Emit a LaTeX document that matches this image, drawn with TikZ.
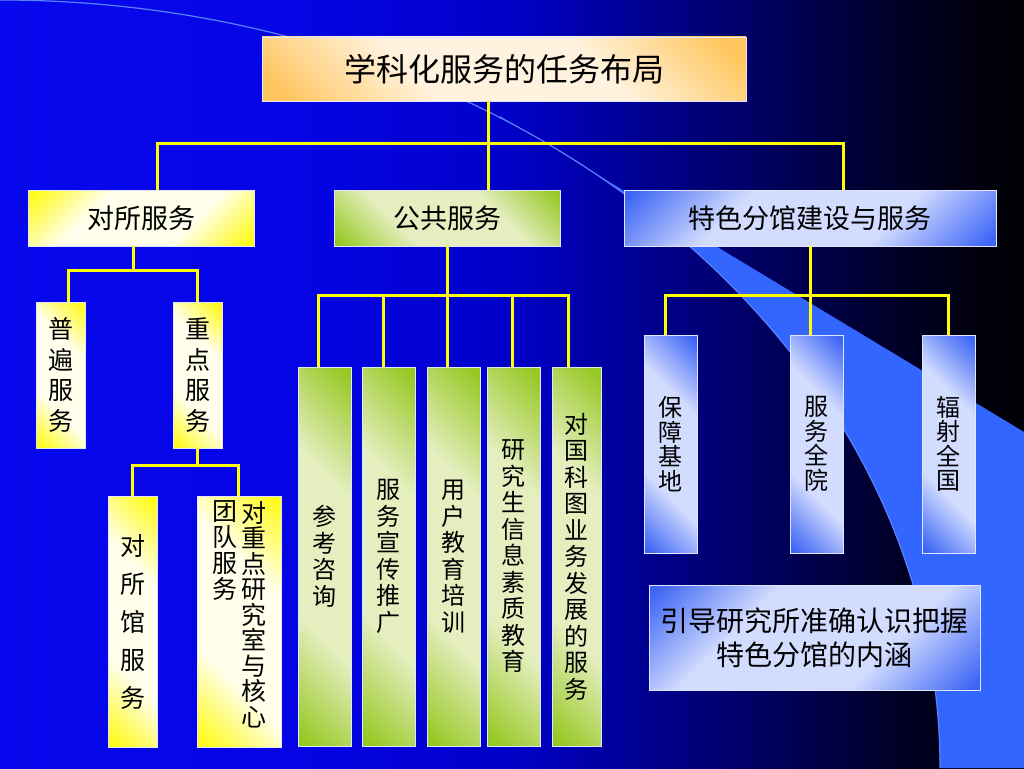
\documentclass[tikz,border=0pt]{standalone}
\usepackage{fontspec}
\newfontfamily\cjk{Noto Sans CJK SC}
\definecolor{bgA}{RGB}{8,8,238}
\definecolor{bgB}{RGB}{4,4,228}
\definecolor{bgC}{RGB}{0,0,200}
\definecolor{bgD}{RGB}{0,0,140}
\definecolor{bgE}{RGB}{0,0,90}
\definecolor{bgF}{RGB}{0,0,45}
\definecolor{bgG}{RGB}{0,0,12}
\definecolor{bgH}{RGB}{0,0,4}
\definecolor{wedgecol}{RGB}{51,102,255}
\definecolor{arccol}{RGB}{90,130,255}
\definecolor{lineyel}{RGB}{255,255,0}
\definecolor{boxedge}{RGB}{225,230,255}
\definecolor{ycor}{RGB}{255,250,20}
\definecolor{ycen}{RGB}{255,255,235}
\definecolor{ocor}{RGB}{255,198,95}
\definecolor{ocen}{RGB}{255,243,224}
\definecolor{gcor}{RGB}{150,200,35}
\definecolor{gcen}{RGB}{228,238,190}
\definecolor{bcor}{RGB}{60,100,245}
\definecolor{bcen}{RGB}{210,220,255}
\pgfdeclarehorizontalshading{bgsh}{100bp}{color(0bp)=(bgA); color(25bp)=(bgA); color(40bp)=(bgB); color(50bp)=(bgC); color(57bp)=(bgD); color(63bp)=(bgE); color(68bp)=(bgF); color(73bp)=(bgG); color(75bp)=(bgH); color(100bp)=(bgH)}
\pgfdeclarehorizontalshading{yelsh}{100bp}{color(0bp)=(ycor); color(16bp)=(ycor); color(36bp)=(ycen); color(64bp)=(ycen); color(84bp)=(ycor); color(100bp)=(ycor)}
\pgfdeclarehorizontalshading{orgsh}{100bp}{color(0bp)=(ocor); color(18bp)=(ocor); color(38bp)=(ocen); color(62bp)=(ocen); color(82bp)=(ocor); color(100bp)=(ocor)}
\pgfdeclarehorizontalshading{grnsh}{100bp}{color(0bp)=(gcor); color(16bp)=(gcor); color(36bp)=(gcen); color(64bp)=(gcen); color(84bp)=(gcor); color(100bp)=(gcor)}
\pgfdeclarehorizontalshading{blush}{100bp}{color(0bp)=(bcor); color(16bp)=(bcor); color(36bp)=(bcen); color(64bp)=(bcen); color(84bp)=(bcor); color(100bp)=(bcor)}
\begin{document}
\begin{tikzpicture}[x=1pt,y=-1pt,
  every node/.style={inner sep=0pt, outer sep=0pt},
  conn/.style={draw=lineyel, line width=3pt},
  boxbase/.style={draw=boxedge, line width=0.8pt, text=black, align=center},
  orgbox/.style={boxbase, shading=orgsh, shading angle=45},
  yelbox/.style={boxbase, shading=yelsh, shading angle=45},
  yelboxh/.style={boxbase, shading=yelsh, shading angle=-45},
  grnbox/.style={boxbase, shading=grnsh, shading angle=45},
  blubox/.style={boxbase, shading=blush, shading angle=45},
  bluboxh/.style={boxbase, shading=blush, shading angle=-45},
  ftitle/.style={font=\cjk\fontsize{32}{36}\selectfont},
  fmid/.style={font=\cjk\fontsize{27}{34}\selectfont},
  fvy/.style={font=\cjk\fontsize{25}{30.5}\selectfont},
  fvyw/.style={font=\cjk\fontsize{25}{38}\selectfont},
  fvg/.style={font=\cjk\fontsize{24}{26.5}\selectfont},
  fvb/.style={font=\cjk\fontsize{24}{24.5}\selectfont},
  coltext/.style={align=center, anchor=north, text=black}
]
\useasboundingbox (0,0) rectangle (1024,768);
% background
\shade[shading=bgsh] (0,0) rectangle (1024,768);
\begin{scope}
  \clip (500,116) -- (1024,432) -- (1024,768) -- (500,768) -- cycle;
  \fill[wedgecol] (0,0) .. controls (519,0) and (940,344) .. (940,768) -- (1030,768) -- (1030,-5) -- cycle;
\end{scope}
\draw[arccol, line width=1.2pt] (0,0) .. controls (519,0) and (940,344) .. (940,768);

% level 0
\node[orgbox, ftitle, minimum width=484pt, minimum height=64pt] (T) at (504,69) {学科化服务的任务布局};
% level 1
\node[yelboxh, fmid, minimum width=226pt, minimum height=56pt] (A) at (141,218) {对所服务};
\node[grnbox, fmid, minimum width=226pt, minimum height=56pt] (B) at (447,218) {公共服务};
\node[bluboxh, fmid, minimum width=372pt, minimum height=56pt] (C) at (810,218) {特色分馆建设与服务};
% under A
\node[yelbox, fvy, minimum width=49pt, minimum height=146pt] (A1) at (60.5,375) {普\\遍\\服\\务};
\node[yelbox, fvy, minimum width=49pt, minimum height=146pt] (A2) at (197.5,375) {重\\点\\服\\务};
\node[yelbox, fvyw, minimum width=49pt, minimum height=251pt] (A21) at (132.5,621.5) {对\\所\\馆\\服\\务};
\node[yelbox, minimum width=84pt, minimum height=251pt] (A22) at (239,621.5) {};
\node[coltext, font=\cjk\fontsize{25}{25.5}\selectfont] (A22r) at (253.5,501) {对\\重\\点\\研\\究\\室\\与\\核\\心};
\node[coltext, font=\cjk\fontsize{25}{26}\selectfont] (A22l) at (224.5,501) {团\\队\\服\\务};
% under B
\node[grnbox, fvg, minimum width=53pt, minimum height=379pt] (B1) at (324.5,556.5) {参\\考\\咨\\询};
\node[grnbox, fvg, minimum width=53pt, minimum height=379pt] (B2) at (388.5,556.5) {服\\务\\宣\\传\\推\\广};
\node[grnbox, fvg, minimum width=53pt, minimum height=379pt] (B3) at (453.5,556.5) {用\\户\\教\\育\\培\\训};
\node[grnbox, fvg, minimum width=53pt, minimum height=379pt] (B4) at (513.5,556.5) {研\\究\\生\\信\\息\\素\\质\\教\\育};
\node[grnbox, fvg, minimum width=49pt, minimum height=379pt] (B5) at (576.5,556.5) {对\\国\\科\\图\\业\\务\\发\\展\\的\\服\\务};
% under C
\node[blubox, fvb, minimum width=53pt, minimum height=218pt] (C1) at (670.5,444) {保\\障\\基\\地};
\node[blubox, fvb, minimum width=53pt, minimum height=218pt] (C2) at (816.5,444) {服\\务\\全\\院};
\node[blubox, fvb, minimum width=53pt, minimum height=218pt] (C3) at (948.5,444) {辐\\射\\全\\国};
\node[bluboxh, font=\cjk\fontsize{28}{34}\selectfont, minimum width=331pt, minimum height=105pt] (D) at (814.5,637.5) {引导研究所准确认识把握\\特色分馆的内涵};

% connectors
\coordinate (busTop) at (488,143);
\draw[conn] ([xshift=-16pt]T.south) -- ([xshift=41pt]B.north);
\draw[conn] ([xshift=16pt]A.north) |- (busTop);
\draw[conn] ([xshift=33pt]C.north) |- (busTop);

\coordinate (busA) at (133,270);
\draw[conn] ([xshift=-8pt]A.south) -- (busA);
\draw[conn] ([xshift=7.5pt]A1.north) |- (busA);
\draw[conn] (A2.north) |- (busA);

\coordinate (busA2) at (197.5,465);
\draw[conn] (A2.south) -- (busA2);
\draw[conn] (A21.north) |- (busA2);
\draw[conn] ([xshift=-1pt]A22.north) |- (busA2);

\coordinate (busB) at (447,295);
\draw[conn] (B.south) -- (busB);
\draw[conn] ([xshift=-6.5pt]B1.north) |- (busB);
\draw[conn] ([xshift=-5.5pt]B2.north) |- (busB);
\draw[conn] ([xshift=-6.5pt]B3.north) |- (busB);
\draw[conn] ([xshift=-1.5pt]B4.north) |- (busB);
\draw[conn] ([xshift=-8.5pt]B5.north) |- (busB);

\coordinate (busC) at (810,295);
\draw[conn] (C.south) -- (busC);
\draw[conn] ([xshift=-5.5pt]C1.north) |- (busC);
\draw[conn] ([xshift=-6.5pt]C2.north) |- (busC);
\draw[conn] ([xshift=-0.5pt]C3.north) |- (busC);
\end{tikzpicture}
\end{document}
